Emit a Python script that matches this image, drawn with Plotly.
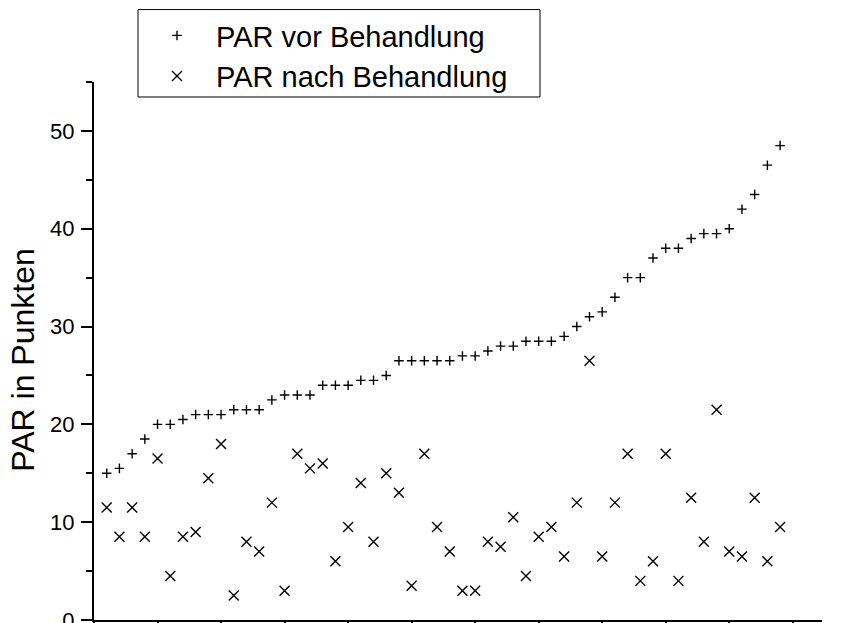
import plotly.graph_objects as go

# Patient index (sorted by score before treatment)
patients = list(range(1, 55))

# PAR score before treatment
par_vor = [15, 15.5, 17, 18.5, 20, 20, 20.5, 21, 21, 21, 21.5, 21.5, 21.5, 22.5, 23,
           23, 23, 24, 24, 24, 24.5, 24.5, 25, 26.5, 26.5, 26.5, 26.5, 26.5, 27, 27,
           27.5, 28, 28, 28.5, 28.5, 28.5, 29, 30, 31, 31.5, 33, 35, 35, 37, 38,
           38, 39, 39.5, 39.5, 40, 42, 43.5, 46.5, 48.5]

# PAR score after treatment
par_nach = [11.5, 8.5, 11.5, 8.5, 16.5, 4.5, 8.5, 9, 14.5, 18, 2.5, 8, 7, 12, 3,
            17, 15.5, 16, 6, 9.5, 14, 8, 15, 13, 3.5, 17, 9.5, 7, 3, 3,
            8, 7.5, 10.5, 4.5, 8.5, 9.5, 6.5, 12, 26.5, 6.5, 12, 17, 4, 6, 17,
            4, 12.5, 8, 21.5, 7, 6.5, 12.5, 6, 9.5]

y_ticks = [0, 10, 20, 30, 40, 50]
x_ticks = [0, 5, 10, 15, 20, 25, 30, 35, 40, 45, 50, 55]
y_title = "PAR in Punkten"

FONT = "Arial, Liberation Sans, Helvetica, sans-serif"

# plot area in pixels
L, R, T, B = 94, 822, 82, 620.5
W, H = R - L, B - T


def px_x(p):
    return (p - L) / W


def px_y(p):
    return (B - p) / H


fig = go.Figure()
fig.add_trace(go.Scatter(
    x=patients, y=par_vor, mode="markers", name="PAR vor Behandlung",
    marker=dict(symbol="cross-thin", size=6.8, color="black",
                line=dict(color="black", width=1.4)),
))
fig.add_trace(go.Scatter(
    x=patients, y=par_nach, mode="markers", name="PAR nach Behandlung",
    marker=dict(symbol="x-thin", size=10, color="black",
                line=dict(color="black", width=1.4)),
))

# legend frame
fig.add_shape(type="rect", xref="paper", yref="paper",
              x0=px_x(138), x1=px_x(540), y0=px_y(97), y1=px_y(9.5),
              line=dict(color="black", width=1), fillcolor="rgba(0,0,0,0)",
              layer="above")

# y-axis title (placed slightly below the axis centre as in the original)
fig.add_annotation(text=y_title, textangle=-90, showarrow=False,
                   xref="paper", yref="paper", x=px_x(23), y=px_y(360),
                   xanchor="center", yanchor="middle",
                   font=dict(family=FONT, size=32, color="black"))

fig.update_layout(
    width=846, height=623,
    margin=dict(l=L, r=846 - R, t=T, b=623 - B, autoexpand=False),
    plot_bgcolor="white", paper_bgcolor="white",
    font=dict(family=FONT, color="black"),
    showlegend=True,
    legend=dict(
        x=px_x(138), xanchor="left",
        y=px_y(10), yanchor="top",
        borderwidth=0,
        bgcolor="rgba(255,255,255,0)",
        font=dict(family=FONT, size=29, color="black"),
        itemwidth=68, tracegroupgap=0,
    ),
    xaxis=dict(
        range=[0, 57.3], tickvals=x_ticks, showticklabels=False,
        showgrid=False, zeroline=False,
        showline=True, linecolor="black", linewidth=2,
        ticks="outside", ticklen=11, tickwidth=2, tickcolor="black",
        fixedrange=True,
    ),
    yaxis=dict(
        range=[0, 55], tickvals=y_ticks, ticktext=[str(v) for v in y_ticks],
        showgrid=False, zeroline=False,
        showline=True, linecolor="black", linewidth=2,
        ticks="outside", ticklen=11, tickwidth=2, tickcolor="black",
        minor=dict(dtick=5, tick0=0, ticks="outside", ticklen=6, tickwidth=2, tickcolor="black"),
        tickfont=dict(family=FONT, size=22, color="black"),
        ticklabelstandoff=2,
        ticklabeloverflow="allow",
        fixedrange=True,
    ),
)

fig.write_html("out.html",
               config={"displayModeBar": False, "staticPlot": True},
               post_script="document.body.style.margin='0';document.body.style.padding='0';")
